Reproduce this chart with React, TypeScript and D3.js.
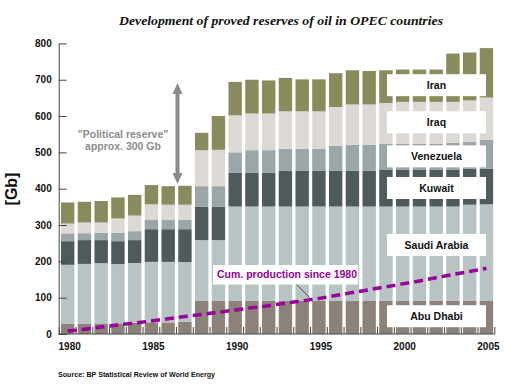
import React, { FC, useEffect, useRef, useMemo } from 'react'
import * as d3 from 'd3'

// proved reserves, Gb (bottom to top of each bar)
const years = [
	1980, 1981, 1982, 1983, 1984, 1985, 1986, 1987, 1988, 1989, 1990, 1991, 1992,
	1993, 1994, 1995, 1996, 1997, 1998, 1999, 2000, 2001, 2002, 2003, 2004, 2005
]
const abuDhabi = [
	27.5, 29, 29, 29, 31, 32, 32, 34, 91, 91, 91, 91, 91, 91, 91, 91, 91, 91, 91, 91, 91,
	91, 91, 91, 91, 91
]
const saudiArabia = [
	163, 164, 166, 163.5, 164.5, 166.5, 166.5, 164, 167.5, 167.5, 260, 260, 260, 260, 260,
	260, 260, 260, 260, 260, 260, 260, 260, 260, 265, 266
]
const kuwait = [
	65, 65.5, 63.5, 63, 63, 90, 90, 90.5, 91.5, 91.5, 92.5, 92.5, 92.5, 98, 98, 98, 98, 98,
	98, 102, 102, 102, 102, 102, 99, 98
]
const venezuela = [
	21.5, 19, 20, 23, 24.5, 26.5, 26.5, 26.5, 57, 57, 56.5, 62.5, 62.5, 61, 61, 61, 69, 72,
	72, 71, 71, 71, 71, 73, 74, 80
]
const iraq = [
	27, 29.5, 28.5, 39.5, 43, 42, 41, 41, 99, 100, 102, 101, 101, 103, 103, 103, 107, 111,
	111, 112, 115, 115, 115, 113, 114, 116
]
const iran = [
	58, 57, 59, 58, 57, 53, 51, 52, 48, 93, 92, 93, 91, 92, 88, 88, 93, 94, 92, 90, 89, 89,
	89, 133, 132, 136
]
const cumProduction = [
	8, 13, 19, 25, 30, 36, 42, 48, 54, 60, 66, 72, 78, 85, 91, 98, 106, 114, 122, 130, 138,
	146, 155, 164, 172, 181
]

const seriesNames = ['Abu Dhabi', 'Saudi Arabia', 'Kuwait', 'Venezuela', 'Iraq', 'Iran']
const seriesColors = ['#8d8279', '#b8c3c4', '#4e5b5c', '#9aa6a7', '#dcd8d3', '#8b8a5c']
// where the right hand labels sit, in Gb
const labelAt = [49, 245, 402, 489, 583, 685]

const yTicks = [0, 100, 200, 300, 400, 500, 600, 700, 800]
const yearLabels = [1980, 1985, 1990, 1995, 2000, 2005]

const W = 518
const H = 385
const sans = "'Liberation Sans', Arial, Helvetica, sans-serif"

const App: FC = () => {
	const yAxis = useRef<SVGGElement>(null)

	const xScale = useMemo(() => {
		return d3
			.scaleBand<number>()
			.domain(years)
			.range([59.3, 494.8])
			.paddingInner(0.2)
			.paddingOuter(0.1)
	}, [])

	const yScale = useMemo(() => {
		return d3.scaleLinear().domain([0, 800]).range([334, 43.4])
	}, [])

	const stacked = useMemo(() => {
		const rows = years.map((year, i) => ({
			year,
			'Abu Dhabi': abuDhabi[i],
			'Saudi Arabia': saudiArabia[i],
			Kuwait: kuwait[i],
			Venezuela: venezuela[i],
			Iraq: iraq[i],
			Iran: iran[i]
		}))
		return d3.stack<any>().keys(seriesNames)(rows)
	}, [])

	const cumLine = useMemo(() => {
		return d3
			.line<number>()
			.x((d, i) => (xScale(years[i]) as number) + xScale.bandwidth() / 2)
			.y((d) => yScale(d))(cumProduction)
	}, [])

	useEffect(() => {
		if (yAxis.current) {
			const g = d3.select(yAxis.current)
			g.call(
				d3.axisLeft(yScale).tickValues(yTicks).tickSize(-8).tickSizeOuter(0).tickPadding(7)
			)
			g.attr('font-family', sans).attr('font-size', 10).attr('font-weight', 'bold')
			g.select('.domain').attr('stroke', '#444')
			g.selectAll('.tick line').attr('stroke', '#444')
			g.selectAll('.tick text').attr('fill', '#111')
		}
	}, [])

	const step = xScale.step()
	const x0 = xScale.range()[0]
	const boxX = 387
	const boxW = 99

	return (
		<svg
			width={W}
			height={H}
			style={{ position: 'absolute', left: 0, top: 0, background: '#fff' }}
		>
			<text
				x={119}
				y={25}
				fontFamily="'Liberation Serif', 'Times New Roman', serif"
				fontStyle="italic"
				fontWeight="bold"
				fontSize={13.5}
				fill="#111"
				textLength={324}
				lengthAdjust="spacingAndGlyphs"
			>
				Development of proved reserves of oil in OPEC countries
			</text>

			{/* bars */}
			{stacked.map((layer, k) => (
				<g key={layer.key} fill={seriesColors[k]}>
					{layer.map((d) => (
						<rect
							key={d.data.year}
							x={xScale(d.data.year)}
							y={yScale(d[1])}
							width={xScale.bandwidth()}
							height={yScale(d[0]) - yScale(d[1])}
						/>
					))}
				</g>
			))}

			{/* x axis */}
			<g stroke="#444">
				<line x1={58.7} x2={x0 + step * years.length} y1={334} y2={334} />
				{d3.range(years.length + 1).map((i) => (
					<line key={i} x1={x0 + i * step} x2={x0 + i * step} y1={334} y2={327} />
				))}
			</g>
			<g fontFamily={sans} fontSize={10} fontWeight="bold" fill="#111" textAnchor="middle">
				{yearLabels.map((yr) => (
					<text key={yr} x={(xScale(yr) as number) + xScale.bandwidth() / 2 + 2} y={350}>
						{yr}
					</text>
				))}
			</g>
			<g ref={yAxis} transform="translate(58.7, 0)"></g>

			<text
				transform="translate(16.5, 189) rotate(-90)"
				textAnchor="middle"
				fontFamily={sans}
				fontWeight="bold"
				fontSize={16}
				fill="#111"
			>
				[Gb]
			</text>

			{/* political reserve */}
			<path
				d="M177.5,83 L182.5,94 L179.5,94 L179.5,173 L182.5,173 L177.5,184 L172.5,173 L175.5,173 L175.5,94 L172.5,94 Z"
				fill="#8a8a8a"
			/>
			<g fontFamily={sans} fontWeight="bold" fontSize={10.5} fill="#8c8c8c" textAnchor="middle">
				<text x={123} y={138}>
					"Political reserve"
				</text>
				<text x={123} y={150}>
					approx. 300 Gb
				</text>
			</g>

			{/* cumulated production */}
			<path
				d={cumLine || ''}
				fill="none"
				stroke="#990099"
				strokeWidth={3.5}
				strokeDasharray="9 5"
			/>
			<line x1={295} y1={283} x2={312} y2={300} stroke="#333" strokeWidth={0.8} />
			<rect x={213} y={265} width={145} height={19.5} fill="#fff" />
			<text
				x={287}
				y={277.5}
				textAnchor="middle"
				fontFamily={sans}
				fontWeight="bold"
				fontSize={10.5}
				fill="#990099"
			>
				Cum. production since 1980
			</text>

			{/* country labels */}
			{seriesNames.map((name, k) => {
				const cy = yScale(labelAt[k])
				return (
					<g key={name}>
						<rect x={boxX} y={cy - 11} width={boxW} height={22} fill="#fff" />
						<text
							x={boxX + boxW / 2}
							y={cy + 3.6}
							textAnchor="middle"
							fontFamily={sans}
							fontWeight="bold"
							fontSize={10.5}
							fill="#111"
						>
							{name}
						</text>
					</g>
				)
			})}

			<text
				x={58}
				y={377}
				fontFamily={sans}
				fontWeight="bold"
				fontSize={8}
				fill="#111"
				textLength={157}
				lengthAdjust="spacingAndGlyphs"
			>
				Source: BP Statistical Review of World Energy
			</text>
		</svg>
	)
}

export default App
